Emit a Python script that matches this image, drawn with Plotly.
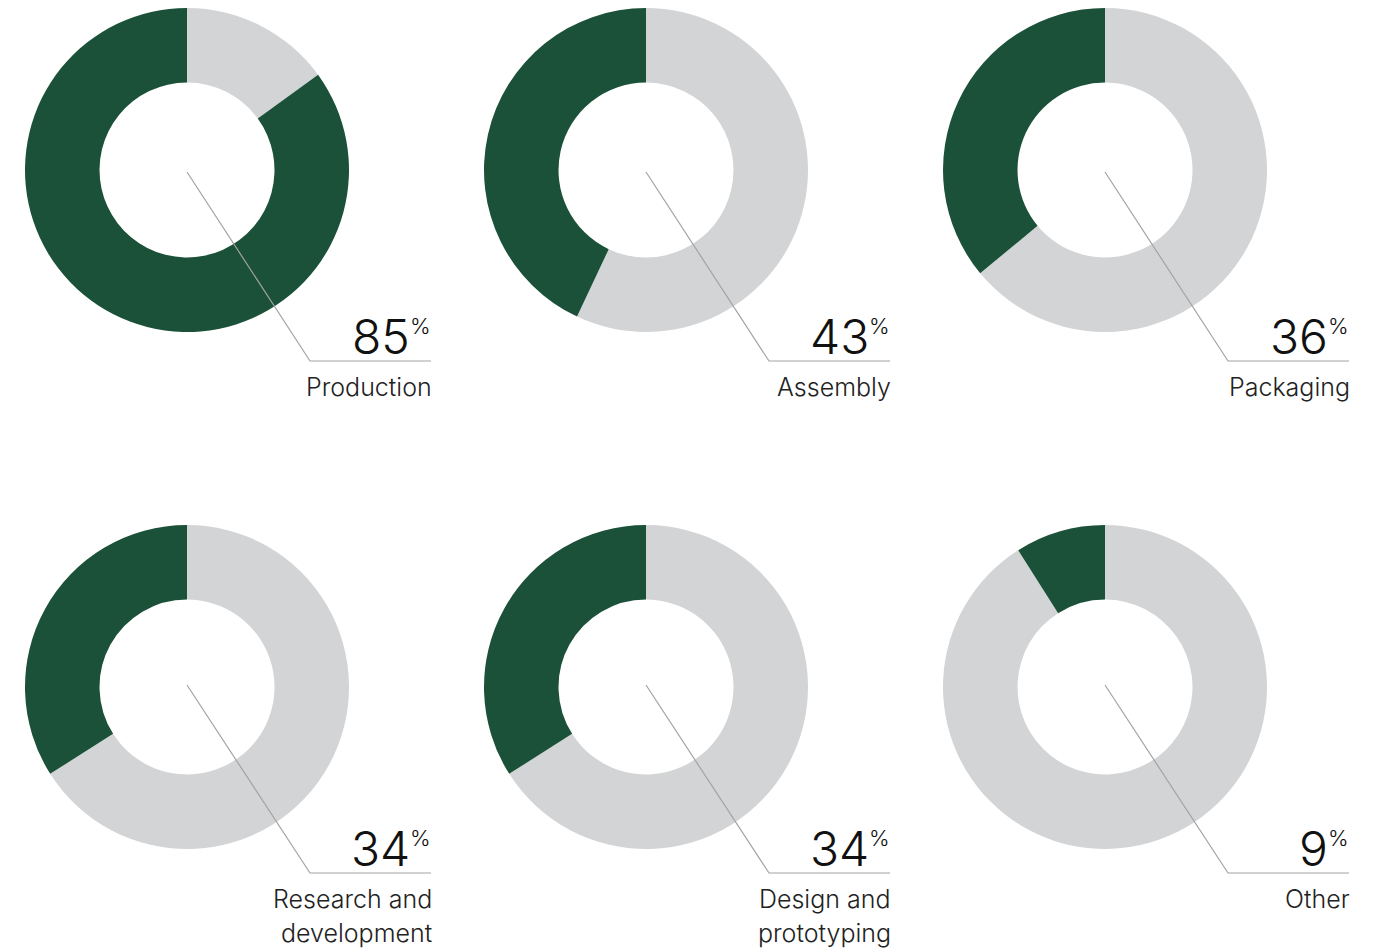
import plotly.graph_objects as go

# Share of respondents per activity area
categories = ["Production", "Assembly", "Packaging",
              "Research and<br>development", "Design and<br>prototyping", "Other"]
shares = [85, 43, 36, 34, 34, 9]

W, H = 1396, 950
GREEN = "#1b5138"
GREY = "#d3d4d6"
LINE = "#a3a3a3"
FONT = "Inter"

col_cx = [187, 646, 1105]
row_cy = [170, 687]
R_OUT = 162
HOLE = 0.54


def px(x):
    return x / W


def py(y):
    return 1 - y / H


fig = go.Figure()
shapes = []
annotations = []

for i, (cat, val) in enumerate(zip(categories, shares)):
    r, c = divmod(i, 3)
    cx, cy = col_cx[c], row_cy[r]
    # remainder first, clockwise from 12 o'clock, so the share ends at the top
    fig.add_trace(go.Pie(
        values=[100 - val, val],
        labels=["rest", "share"],
        marker=dict(colors=[GREY, GREEN], line=dict(width=0)),
        hole=HOLE,
        sort=False,
        direction="clockwise",
        rotation=0,
        textinfo="none",
        hoverinfo="skip",
        showlegend=False,
        domain=dict(x=[px(cx - R_OUT), px(cx + R_OUT)],
                    y=[py(cy + R_OUT), py(cy - R_OUT)]),
    ))

    # leader line: from the centre down to the right, then horizontal
    y0 = cy + 2 if r == 0 else cy - 2
    ybase = cy + 191 if r == 0 else cy + 186
    xk = cx + 123
    xe = cx + 244
    shapes.append(dict(
        type="path", xref="paper", yref="paper", layer="above",
        path=f"M {px(cx)},{py(y0)} L {px(xk)},{py(ybase)} L {px(xe)},{py(ybase)}",
        line=dict(color=LINE, width=1.2),
    ))

    # value and percent sign
    annotations.append(dict(
        x=px(xe - 19), y=py(ybase - 25), xref="paper", yref="paper",
        xanchor="right", yanchor="middle", showarrow=False,
        text=str(val),
        font=dict(family=FONT, size=48, color="#111111", weight=300),
    ))
    annotations.append(dict(
        x=px(xe + 2), y=py(ybase - 35), xref="paper", yref="paper",
        xanchor="right", yanchor="middle", showarrow=False,
        text="%",
        font=dict(family=FONT, size=22, color="#111111", weight=300),
    ))
    # category label, one annotation per line
    for k, part in enumerate(cat.split("<br>")):
        annotations.append(dict(
            x=px(xe + 3), y=py(ybase + 9 + 34 * k), xref="paper", yref="paper",
            xanchor="right", yanchor="top", align="right", showarrow=False,
            text=part,
            font=dict(family=FONT, size=25, color="#222222", weight=300),
        ))

fig.update_layout(
    width=W, height=H,
    margin=dict(l=0, r=0, t=0, b=0),
    paper_bgcolor="white", plot_bgcolor="white",
    shapes=shapes, annotations=annotations,
)

fig.write_html("out.html")
